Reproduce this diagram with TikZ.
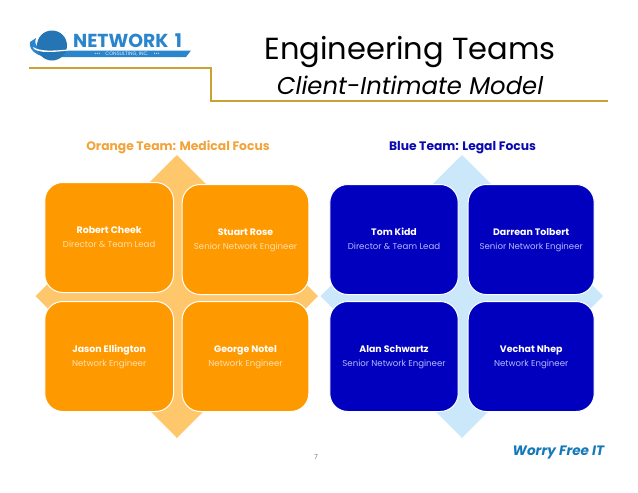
\documentclass[tikz,border=0pt]{standalone}
\usepackage{fontspec}
\setmainfont{Poppins}
\definecolor{goldline}{HTML}{C9A233}
\definecolor{orangebox}{HTML}{FF9900}
\definecolor{orangediam}{HTML}{FFC76B}
\definecolor{bluebox}{HTML}{0000BE}
\definecolor{bluediam}{HTML}{CBE8FB}
\definecolor{logoblue}{HTML}{2A85CC}
\definecolor{orangehead}{HTML}{F2A33A}
\definecolor{bluehead}{HTML}{0A0AB0}
\definecolor{worry}{HTML}{1479B8}
\definecolor{orangesub}{HTML}{FFE0B0}
\definecolor{bluesub}{HTML}{B8B8FF}
\tikzset{
  member/.style={draw=white,line width=1pt,rounded corners=18pt,anchor=north west,inner sep=0pt,align=center},
  orangecard/.style={member,fill=orangebox},
  bluecard/.style={member,fill=bluebox},
  nametxt/.style={font=\fontsize{9.4}{10}\selectfont\bfseries,text=white,inner sep=0pt,anchor=base},
  orangerole/.style={font=\fontsize{8.6}{10}\selectfont,text=orangesub,inner sep=0pt,anchor=base},
  bluerole/.style={font=\fontsize{8.6}{10}\selectfont,text=bluesub,inner sep=0pt,anchor=base},
  teamhead/.style={font=\fontsize{12.3}{14}\selectfont\bfseries,inner sep=0pt}
}
\newcommand{\card}[9]{%
  \node[#2,minimum width=#5pt,minimum height=#6pt] (#1) at (#3,#4) {};
  \node[nametxt] (#1n) at ([yshift=-51pt]#1.north) {#7};
  \node[orangerole,#9] (#1r) at ([yshift=-65.5pt]#1.north) {#8};
}
\begin{document}
\begin{tikzpicture}[x=1pt,y=-1pt]
\useasboundingbox (0,0) rectangle (638,493);
\fill[white] (0,0) rectangle (638,493);
% logo
\fill[logoblue] (30,42) .. controls (28,52) and (42,60) .. (60,57) -- (186,57) -- (191,50.5) -- (60,50.5) .. controls (44,52) and (32,48) .. (36,38) -- cycle;
\fill[logoblue!88!black] (52,45.5) circle (15);
\fill[white] (33,47) .. controls (40,51.5) and (52,51) .. (68,49.5) -- (68,50.5) .. controls (52,52.5) and (40,53) .. (34,49) -- cycle;
\node[font=\fontsize{18.8}{19}\selectfont\bfseries,text=logoblue,inner sep=0pt] (logotext) at (127.5,40.5) {NETWORK\,\,1};
\node[font=\fontsize{5}{5}\selectfont,text=white!85!logoblue,inner sep=0pt] (logosub) at (127,54.4) {•••\hspace{5pt}CONSULTING, INC.\hspace{5pt}•••};
% title rule
\draw[goldline,line width=2pt] (29,67.5) -- (211,67.5) -- (211,101) -- (608,101);
\node[font=\fontsize{30.5}{34}\selectfont,inner sep=0pt] (title) at (410,52) {Engineering Teams};
\node[font=\fontsize{24.3}{28}\selectfont\itshape,inner sep=0pt] (subtitle) at (410,85) {Client-Intimate Model};
\node[teamhead,text=orangehead] (ohead) at (178,147.5) {Orange Team: Medical Focus};
\node[teamhead,text=bluehead] (bhead) at (462.5,147.5) {Blue Team: Legal Focus};
% diamonds
\fill[orangediam] (35.5,296) -- (177,155) -- (318,296) -- (177,438) -- cycle;
\fill[bluediam] (320.5,296) -- (462,155) -- (603,296) -- (462,438) -- cycle;
% cards
\card{rc}{orangecard}{44.3}{182}{128.7}{110}{Robert Cheek}{Director \& Team Lead}{}
\card{sr}{orangecard}{181.7}{184}{126.6}{110}{Stuart Rose}{Senior Network Engineer}{}
\card{je}{orangecard}{44.3}{301}{128.7}{110}{Jason Ellington}{Network Engineer}{}
\card{gn}{orangecard}{181.7}{301}{126.6}{110}{George Notel}{Network Engineer}{}
\card{tk}{bluecard}{329.3}{184}{128.4}{110}{Tom Kidd}{Director \& Team Lead}{bluerole}
\card{dt}{bluecard}{467.7}{184}{126}{110}{Darrean Tolbert}{Senior Network Engineer}{bluerole}
\card{as}{bluecard}{329.3}{301}{128.4}{110}{Alan Schwartz}{Senior Network Engineer}{bluerole}
\card{vn}{bluecard}{467.7}{301}{126}{110}{Vechat Nhep}{Network Engineer}{bluerole}
% footer
\node[font=\fontsize{7}{8}\selectfont,text=black!50,inner sep=0pt] (pageno) at (316,457) {7};
\node[font=\fontsize{13.6}{14}\selectfont\bfseries\itshape,text=worry,inner sep=0pt] (worrytxt) at (558.5,453) {Worry Free IT};
\end{tikzpicture}
\end{document}
